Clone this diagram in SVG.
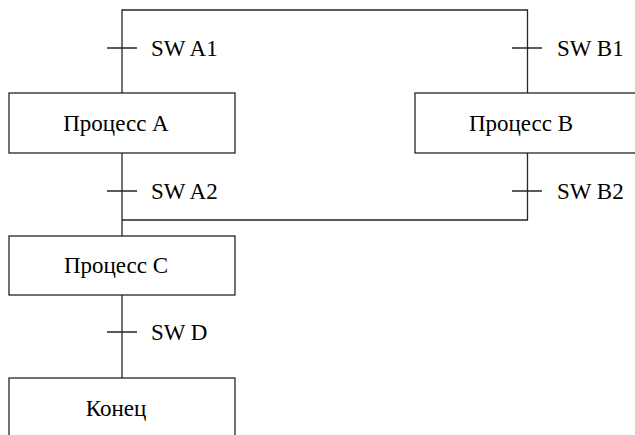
<svg xmlns="http://www.w3.org/2000/svg" width="635" height="435" viewBox="0 0 635 435">
<style>
.box{fill:#fff;stroke:#262626;stroke-width:1.3}
.ln{fill:none;stroke:#262626;stroke-width:1.3}
</style>
<rect width="635" height="435" fill="#fff"/>
<g id="connectors">
<path class="ln" d="M122,93 V10 H527.5 V93"/>
<path class="ln" d="M122,153 V236"/>
<path class="ln" d="M527.5,153 V220 H122"/>
<path class="ln" d="M122,295 V378"/>
<path class="ln" d="M107,48 H137 M512,48 H542 M107,191 H137 M512,191 H542 M107,332 H137"/>
<text x="151" y="56" style="font-family:'Times New Roman','Liberation Serif',serif;font-size:23px">SW A1</text>
<text x="557" y="56" style="font-family:'Times New Roman','Liberation Serif',serif;font-size:23px">SW B1</text>
<text x="151" y="199" style="font-family:'Times New Roman','Liberation Serif',serif;font-size:23px">SW A2</text>
<text x="557" y="199" style="font-family:'Times New Roman','Liberation Serif',serif;font-size:23px">SW B2</text>
<text x="151" y="340" style="font-family:'Times New Roman','Liberation Serif',serif;font-size:23px">SW D</text>
</g>
<g id="procA"><rect class="box" x="9" y="93" width="226" height="60"/><text x="116" y="131" text-anchor="middle" style="font-family:'Times New Roman','Liberation Serif',serif;font-size:23px">Процесс A</text></g>
<g id="procB"><rect class="box" x="415" y="93" width="226" height="60"/><text x="521" y="131" text-anchor="middle" style="font-family:'Times New Roman','Liberation Serif',serif;font-size:23px">Процесс B</text></g>
<g id="procC"><rect class="box" x="9" y="236" width="226" height="59"/><text x="116" y="273" text-anchor="middle" style="font-family:'Times New Roman','Liberation Serif',serif;font-size:23px">Процесс C</text></g>
<g id="end"><rect class="box" x="9" y="378" width="226" height="70"/><text x="116" y="416" text-anchor="middle" style="font-family:'Times New Roman','Liberation Serif',serif;font-size:23px">Конец</text></g>
</svg>
